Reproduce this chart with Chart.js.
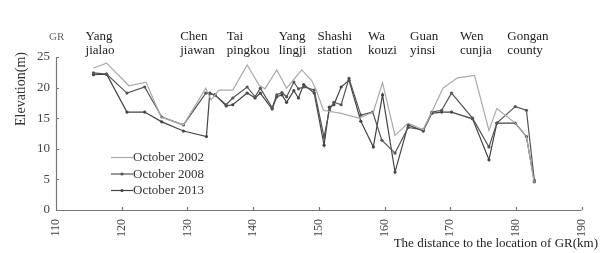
<!DOCTYPE html>
<html><head><meta charset="utf-8">
<script src="https://cdn.jsdelivr.net/npm/chart.js@4.4.1/dist/chart.umd.min.js"></script>
<style>html,body{margin:0;padding:0;background:#fff}#wrap{width:605px;height:253px;position:relative}</style>
</head><body><div id="wrap"><canvas id="c" width="605" height="253"></canvas></div>
<script>
const x2002 = [115.7,117.7,121.1,123.7,126.0,129.4,132.8,133.6,134.8,136.9,139.1,140.9,141.8,143.6,145.1,147.4,148.9,149.6,150.7,153.4,156.1,158.3,159.7,161.6,163.6,165.9,167.2,168.9,171.1,173.7,175.9,177.1,179.9,181.6,182.8];
const y2002 = [23.2,24.0,20.3,20.9,15.2,13.9,19.9,18.0,19.6,19.6,23.7,20.4,19.8,22.9,19.9,22.9,21.2,19.6,16.3,15.8,15.0,16.0,20.8,12.2,14.2,13.1,16.0,19.9,21.6,22.0,13.0,16.6,14.2,12.0,4.4];
const x2008 = [115.7,117.7,120.8,123.5,126.1,129.4,132.8,134.2,135.9,136.9,139.1,140.3,141.1,142.9,143.6,144.4,145.1,146.2,146.9,147.7,149.3,150.8,151.6,152.3,153.4,154.6,156.4,158.2,159.6,161.6,163.6,165.9,167.2,168.7,170.2,173.4,175.9,177.1,179.9,181.6,182.8];
const y2008 = [22.4,22.2,19.1,20.1,15.2,13.9,19.1,18.8,17.2,18.3,20.1,18.5,19.9,16.7,18.8,19.2,18.5,20.9,19.8,20.1,19.6,11.9,16.3,17.6,17.2,21.5,15.5,16.0,11.4,9.3,13.5,13.1,16.0,16.3,19.1,15.0,10.3,14.2,16.9,16.3,4.9];
const x2013 = [115.7,117.7,120.8,123.5,126.1,129.4,132.9,133.4,134.2,135.9,136.9,139.1,140.3,141.1,142.9,143.6,144.4,145.1,146.2,146.9,147.7,149.3,150.8,151.6,152.3,153.4,154.6,156.4,158.3,159.7,161.6,163.6,165.9,167.2,168.7,170.2,173.4,175.9,177.1,179.9,181.6,182.8];
const y2013 = [22.1,22.2,16.0,16.0,14.4,12.9,12.0,19.1,18.8,17.0,17.2,19.1,18.3,19.1,16.5,18.5,18.8,17.6,19.5,18.3,20.5,19.1,10.6,16.8,17.2,20.1,21.2,14.5,10.3,18.8,6.2,13.9,12.9,15.8,16.0,16.0,14.9,8.2,14.2,14.2,12.0,4.6];
const seriesNames = ["October 2002","October 2008","October 2013"];
const xTicks = [110,120,130,140,150,160,170,180,190];
const yTicks = [0,5,10,15,20,25];
const stations = [["Yang","jialao"],["Chen","jiawan"],["Tai","pingkou"],["Yang","lingji"],["Shashi","station"],["Wa","kouzi"],["Guan","yinsi"],["Wen","cunjia"],["Gongan","county"]];
const stationKm = [114.5,128.9,136.0,143.9,149.8,157.5,163.9,171.5,178.7];
const yTitle = "Elevation(m)";
const xTitle = "The distance to the location of GR(km)";
const originLabel = "GR";

const pts = (xs, ys) => xs.map((x, i) => ({x, y: ys[i]}));
const FONT = "'Liberation Serif', 'DejaVu Serif', serif";

const deco = {
  id: 'deco',
  afterDraw(chart) {
    const ctx = chart.ctx, xs = chart.scales.x, ys = chart.scales.y, a = chart.chartArea;
    ctx.save();
    ctx.strokeStyle = '#777'; ctx.lineWidth = 1.2;
    ctx.beginPath();
    ctx.moveTo(a.left + 0.5, ys.getPixelForValue(25)); ctx.lineTo(a.left + 0.5, a.bottom + 0.5);
    ctx.lineTo(xs.getPixelForValue(190), a.bottom + 0.5);
    xTicks.forEach(v => { const p = Math.round(xs.getPixelForValue(v)) + 0.5; ctx.moveTo(p, a.bottom); ctx.lineTo(p, a.bottom - 3); });
    yTicks.forEach(v => { const p = Math.round(ys.getPixelForValue(v)) + 0.5; ctx.moveTo(a.left, p); ctx.lineTo(a.left + 3, p); });
    ctx.stroke();
    ctx.fillStyle = '#222'; ctx.font = "13px " + FONT; ctx.textBaseline = 'alphabetic'; ctx.textAlign = 'left';
    stations.forEach((s, i) => {
      const px = xs.getPixelForValue(stationKm[i]);
      ctx.fillText(s[0], px, 40);
      ctx.fillText(s[1], px, 54);
    });
    ctx.fillStyle = '#666'; ctx.font = "11px " + FONT;
    ctx.fillText(originLabel, 49, 40);
    ctx.save();
    ctx.fillStyle = '#333'; ctx.font = "14px " + FONT; ctx.textAlign = 'center'; ctx.textBaseline = 'middle';
    ctx.translate(21, 89); ctx.rotate(-Math.PI / 2);
    ctx.fillText(yTitle, 0, 0);
    ctx.restore();
    ctx.fillStyle = '#222'; ctx.font = "13px " + FONT; ctx.textAlign = 'right'; ctx.textBaseline = 'alphabetic';
    ctx.fillText(xTitle, 598, 247);
    ctx.font = "13px " + FONT; ctx.textAlign = 'left'; ctx.textBaseline = 'middle';
    chart.data.datasets.forEach((d, i) => {
      const yy = 157 + i * 16.5;
      ctx.strokeStyle = d.borderColor; ctx.lineWidth = 1.2;
      ctx.beginPath(); ctx.moveTo(111, yy + 0.5); ctx.lineTo(133, yy + 0.5); ctx.stroke();
      if (d.pointRadius > 0) { ctx.fillStyle = d.borderColor; ctx.beginPath(); ctx.arc(122, yy + 0.5, 1.6, 0, Math.PI * 2); ctx.fill(); }
      ctx.fillStyle = '#333';
      ctx.fillText(d.label, 133, yy + 1);
    });
    ctx.restore();
  }
};

new Chart(document.getElementById('c'), {
  type: 'line',
  data: {
    datasets: [
      {label: seriesNames[0], data: pts(x2002, y2002), borderColor: '#aaaaaa', borderWidth: 1.2, pointRadius: 0, tension: 0},
      {label: seriesNames[1], data: pts(x2008, y2008), borderColor: '#555555', backgroundColor: '#555555', borderWidth: 1.2, pointRadius: 1.6, pointBorderWidth: 0, tension: 0},
      {label: seriesNames[2], data: pts(x2013, y2013), borderColor: '#444444', backgroundColor: '#444444', borderWidth: 1.2, pointRadius: 1.6, pointBorderWidth: 0, tension: 0}
    ]
  },
  options: {
    responsive: false, animation: false,
    layout: {padding: {top: 57, right: 16, left: 0, bottom: 0}},
    plugins: {legend: {display: false}, tooltip: {enabled: false}},
    scales: {
      x: {type: 'linear', min: 110, max: 190,
        afterBuildTicks: s => { s.ticks = xTicks.map(v => ({value: v})); },
        afterFit: s => { s.height = 43; },
        grid: {display: false, drawTicks: false}, border: {display: false},
        ticks: {minRotation: 90, maxRotation: 90, padding: 9, color: '#444', font: {family: FONT, size: 12}}},
      y: {min: 0, max: 25,
        afterBuildTicks: s => { s.ticks = yTicks.map(v => ({value: v})); },
        afterFit: s => { s.width = 56; },
        grid: {display: false, drawTicks: false}, border: {display: false},
        ticks: {padding: 6, color: '#444', font: {family: FONT, size: 13}}}
    }
  },
  plugins: [deco]
});
</script></body></html>
